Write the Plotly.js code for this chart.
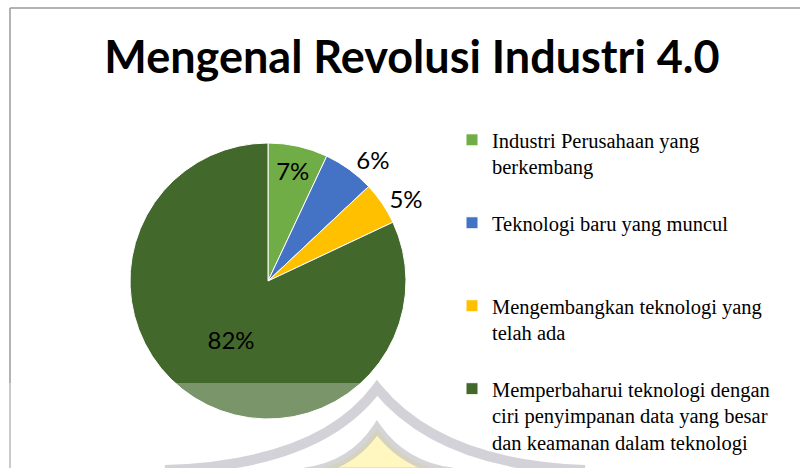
<!DOCTYPE html>
<html>
<head>
<meta charset="utf-8">
<script src="https://cdn.plot.ly/plotly-3.0.1.min.js"></script>
<style>html,body{margin:0;padding:0;background:#fff;}#chart{width:800px;height:468px;}</style>
</head>
<body>
<div id="chart"></div>
<script>
const categories = [
  "Industri Perusahaan yang<br>berkembang",
  "Teknologi baru yang muncul",
  "Mengembangkan teknologi yang<br>telah ada",
  "Memperbaharui teknologi dengan<br>ciri penyimpanan data yang besar<br>dan keamanan dalam teknologi"
];
const values = [7, 6, 5, 82];
const sliceColors = ["#70AD47", "#4472C4", "#FFC000", "#43682B"];
const textPositions = ["inside", "outside", "outside", "inside"];

// pad legend labels to three lines so entries are evenly spaced
const legendLabels = categories.map(c => {
  const n = c.split("<br>").length;
  let s = c;
  for (let i = n; i < 3; i++) s += "<br>\u00a0";
  return s;
});

const W = 800, H = 468;
const px = x => x / W;
const py = y => 1 - y / H;

const labelFont = {family: "Lato, 'Open Sans', sans-serif", size: 24, color: "#000000"};

const trace = {
  type: "pie",
  labels: legendLabels,
  values: values,
  sort: false,
  direction: "clockwise",
  rotation: 0,
  marker: {colors: sliceColors, line: {color: "#ffffff", width: 1}},
  textinfo: "percent",
  texttemplate: "%{percent:.0%}",
  textposition: textPositions,
  insidetextorientation: "horizontal",
  textfont: labelFont,
  outsidetextfont: labelFont,
  insidetextfont: labelFont,
  hoverinfo: "label+percent",
  domain: {x: [px(130), px(406)], y: [py(419), py(143)]},
  showlegend: true
};

const shapes = [
  // chart border
  {type: "line", xref: "paper", yref: "paper", x0: px(10), x1: px(10), y0: py(8), y1: 0, line: {color: "#9a9a9a", width: 1.5}},
  {type: "line", xref: "paper", yref: "paper", x0: px(10), x1: 1, y0: py(8), y1: py(8), line: {color: "#9a9a9a", width: 1.5}},
  // watermark veil
  {type: "rect", xref: "paper", yref: "paper", x0: 0, x1: 1, y0: 0, y1: py(383), line: {width: 0}, fillcolor: "rgba(255,255,255,0.3)", layer: "above"},
  // watermark logo (faint)
  {type: "path", xref: "paper", yref: "paper", layer: "above",
   path: `M ${px(165)},${py(470)} Q ${px(320)},${py(465)} ${px(377)},${py(388)} Q ${px(440)},${py(465)} ${px(585)},${py(470)}`,
   line: {color: "rgba(180,180,190,0.6)", width: 10}},
  {type: "path", xref: "paper", yref: "paper", layer: "above",
   path: `M ${px(305)},${py(472)} Q ${px(352)},${py(466)} ${px(377)},${py(428)} Q ${px(404)},${py(466)} ${px(452)},${py(472)} Z`,
   line: {color: "rgba(185,185,192,0.6)", width: 9}, fillcolor: "rgba(255,244,170,0.75)"}
];

const layout = {
  width: W, height: H,
  margin: {l: 0, r: 0, t: 0, b: 0},
  paper_bgcolor: "#ffffff",
  plot_bgcolor: "#ffffff",
  title: {
    text: "<b>Mengenal Revolusi Industri 4.0</b>",
    font: {family: "Lato, 'Open Sans', sans-serif", size: 45, color: "#000000"},
    x: px(412), xanchor: "center", xref: "paper",
    y: py(57), yanchor: "middle", yref: "container"
  },
  showlegend: true,
  legend: {
    x: px(452), xanchor: "left",
    y: py(120), yanchor: "top",
    valign: "top",
    font: {family: "'Liberation Serif', 'Times New Roman', serif", size: 20.5, color: "#000000"},
    bgcolor: "rgba(0,0,0,0)",
    traceorder: "normal",
    itemclick: false
  },
  shapes: shapes
};

Plotly.newPlot("chart", [trace], layout, {displayModeBar: false, staticPlot: true});
</script>
</body>
</html>
